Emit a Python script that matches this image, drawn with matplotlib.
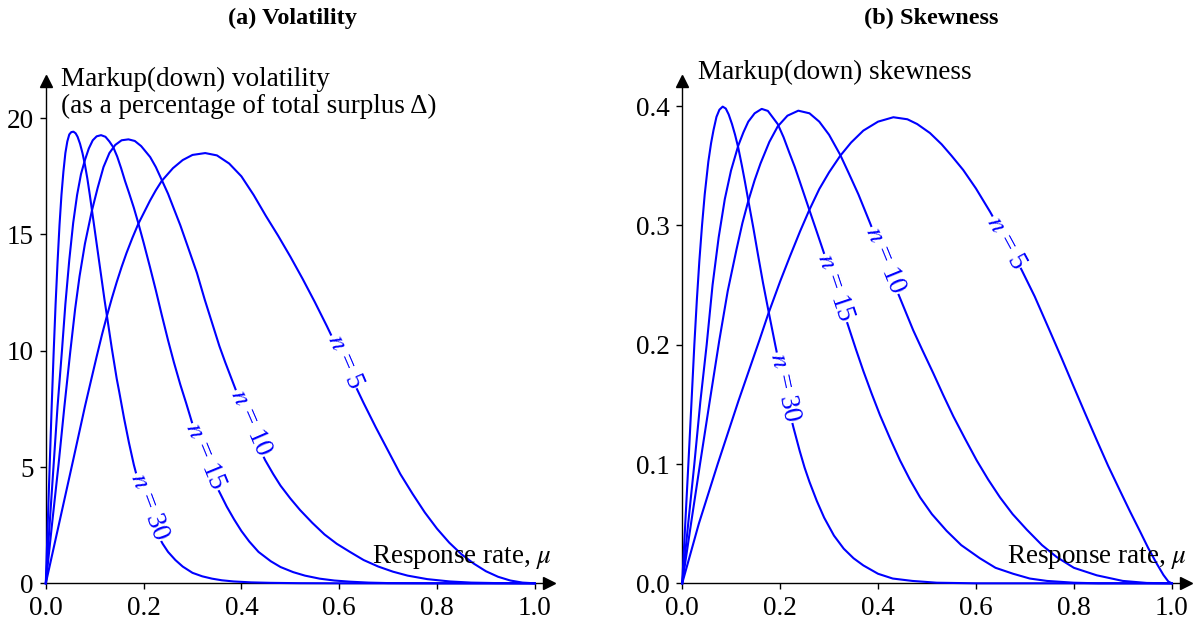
import matplotlib
matplotlib.use("Agg")
import matplotlib.pyplot as plt
from matplotlib.ticker import FormatStrFormatter

plt.rcParams["font.family"] = "serif"
plt.rcParams["font.serif"] = ["Liberation Serif", "DejaVu Serif"]
plt.rcParams["mathtext.fontset"] = "stix"

# === Data ===
# (a) volatility, % of total surplus
vol_x_30 = [0, 0.004, 0.008, 0.012, 0.016, 0.020, 0.024, 0.028, 0.032, 0.036, 0.040, 0.044, 0.048,
            0.052, 0.0565, 0.061, 0.065, 0.070, 0.075, 0.080, 0.085, 0.090, 0.095, 0.100, 0.105,
            0.110, 0.115, 0.120, 0.125, 0.130, 0.135, 0.140, 0.145, 0.150, 0.160, 0.170, 0.180,
            0.190, 0.200, 0.211, 0.220, 0.230, 0.239, 0.250, 0.265, 0.280, 0.300, 0.320, 0.340,
            0.360, 0.384, 0.420, 0.460, 0.520, 0.600, 1.0]
vol_y_30 = [0, 2.6, 5.1, 7.6, 9.9, 12.0, 13.8, 15.4, 16.7, 17.7, 18.5, 19.0, 19.3,
            19.4, 19.42, 19.35, 19.2, 18.9, 18.5, 18.0, 17.4, 16.7, 15.95, 15.2, 14.45,
            13.7, 12.95, 12.2, 11.5, 10.8, 10.1, 9.45, 8.8, 8.25, 7.1, 6.05, 5.1,
            4.3, 3.6, 3.0, 2.5, 2.05, 1.7, 1.35, 1.0, 0.72, 0.45, 0.3, 0.2,
            0.13, 0.08, 0.04, 0.02, 0.005, 0.0, 0.0]
vol_x_15 = [0, 0.008, 0.016, 0.024, 0.033, 0.040, 0.048, 0.056, 0.064, 0.072, 0.080, 0.088, 0.096,
            0.104, 0.113, 0.122, 0.130, 0.138, 0.146, 0.154, 0.162, 0.170, 0.180, 0.189, 0.200,
            0.213, 0.225, 0.237, 0.250, 0.262, 0.275, 0.287, 0.2985, 0.310, 0.327, 0.340, 0.3564,
            0.370, 0.385, 0.400, 0.416, 0.435, 0.460, 0.480, 0.506, 0.530, 0.560, 0.590, 0.622,
            0.660, 0.700, 0.800, 1.0]
vol_y_15 = [0, 2.6, 5.1, 7.6, 10.0, 12.0, 13.9, 15.5, 16.7, 17.6, 18.2, 18.7, 19.05,
            19.22, 19.27, 19.2, 19.0, 18.75, 18.35, 17.85, 17.3, 16.8, 16.15, 15.5, 14.65,
            13.6, 12.6, 11.55, 10.45, 9.5, 8.55, 7.75, 6.95, 6.2, 5.2, 4.55, 3.87,
            3.3, 2.75, 2.25, 1.8, 1.35, 0.95, 0.7, 0.48, 0.33, 0.2, 0.12, 0.07,
            0.03, 0.01, 0.0, 0.0]
vol_x_10 = [0, 0.013, 0.026, 0.038, 0.050, 0.060, 0.069, 0.080, 0.094, 0.106, 0.118, 0.130, 0.142,
            0.155, 0.169, 0.182, 0.195, 0.2134, 0.225, 0.237, 0.250, 0.262, 0.275, 0.290, 0.309,
            0.325, 0.343, 0.355, 0.367, 0.387, 0.400, 0.419, 0.435, 0.4485, 0.465, 0.480, 0.500,
            0.520, 0.545, 0.570, 0.595, 0.622, 0.650, 0.680, 0.710, 0.740, 0.780, 0.826, 0.870,
            0.920, 1.0]
vol_y_10 = [0, 2.6, 5.1, 7.6, 9.95, 11.8, 13.2, 14.6, 16.0, 17.0, 17.9, 18.5, 18.85,
            19.05, 19.09, 19.02, 18.8, 18.33, 17.9, 17.35, 16.75, 16.1, 15.4, 14.5, 13.35,
            12.2, 11.0, 10.2, 9.5, 8.4, 7.7, 6.7, 5.9, 5.3, 4.7, 4.2, 3.65,
            3.15, 2.6, 2.1, 1.7, 1.35, 1.0, 0.72, 0.5, 0.33, 0.18, 0.08, 0.03,
            0.01, 0.0]
vol_x_5 = [0, 0.028, 0.0565, 0.080, 0.090, 0.104, 0.115, 0.125, 0.135, 0.145, 0.155, 0.165, 0.177,
           0.189, 0.201, 0.213, 0.225, 0.237, 0.260, 0.280, 0.300, 0.326, 0.350, 0.375, 0.400,
           0.425, 0.450, 0.475, 0.500, 0.525, 0.550, 0.575, 0.600, 0.625, 0.650, 0.675, 0.700,
           0.725, 0.750, 0.775, 0.800, 0.825, 0.850, 0.875, 0.900, 0.925, 0.950, 0.975, 1.0]
vol_y_5 = [0, 2.65, 5.35, 7.6, 8.5, 9.75, 10.7, 11.5, 12.25, 12.95, 13.6, 14.2, 14.85,
           15.45, 15.95, 16.45, 16.9, 17.3, 17.85, 18.2, 18.42, 18.5, 18.4, 18.05, 17.5,
           16.7, 15.8, 14.95, 14.05, 13.1, 12.1, 11.05, 9.95, 8.85, 7.75, 6.7, 5.7,
           4.7, 3.85, 3.05, 2.35, 1.75, 1.25, 0.85, 0.52, 0.28, 0.12, 0.03, 0.0]

# (b) skewness
skw_x_30 = [0, 0.006, 0.0126, 0.019, 0.0248, 0.030, 0.035, 0.0405, 0.046, 0.0534, 0.059, 0.064, 0.070,
            0.076, 0.0827, 0.089, 0.095, 0.1017, 0.108, 0.1146, 0.122, 0.128, 0.135, 0.1453, 0.155,
            0.165, 0.1759, 0.190, 0.200, 0.210, 0.220, 0.227, 0.240, 0.250, 0.260, 0.275, 0.290,
            0.310, 0.330, 0.350, 0.370, 0.400, 0.430, 0.470, 0.520, 0.600, 1.0]
skw_y_30 = [0, 0.048, 0.1, 0.152, 0.2, 0.238, 0.27, 0.30, 0.326, 0.3535, 0.369, 0.38, 0.391,
            0.397, 0.3996, 0.398, 0.393, 0.385, 0.376, 0.365, 0.35, 0.337, 0.321, 0.298, 0.275,
            0.252, 0.229, 0.2, 0.18, 0.161, 0.143, 0.131, 0.111, 0.097, 0.085, 0.069, 0.055,
            0.040, 0.029, 0.021, 0.015, 0.008, 0.004, 0.002, 0.0005, 0.0, 0.0]
skw_x_15 = [0, 0.012, 0.0248, 0.037, 0.050, 0.062, 0.0745, 0.087, 0.0997, 0.1146, 0.125, 0.135, 0.148,
            0.1624, 0.175, 0.1951, 0.207, 0.2188, 0.230, 0.240, 0.2597, 0.273, 0.287, 0.300, 0.313,
            0.326, 0.339, 0.355, 0.370, 0.387, 0.404, 0.425, 0.445, 0.465, 0.486, 0.510, 0.540,
            0.570, 0.608, 0.640, 0.676, 0.710, 0.745, 0.800, 0.850, 1.0]
skw_y_15 = [0, 0.049, 0.1, 0.152, 0.2, 0.25, 0.29, 0.322, 0.346, 0.367, 0.378, 0.387, 0.394,
            0.3977, 0.396, 0.385, 0.374, 0.361, 0.349, 0.337, 0.313, 0.297, 0.280, 0.264, 0.248,
            0.232, 0.216, 0.196, 0.178, 0.159, 0.141, 0.121, 0.103, 0.087, 0.072, 0.058, 0.044,
            0.032, 0.021, 0.013, 0.008, 0.004, 0.002, 0.0005, 0.0, 0.0]
skw_x_10 = [0, 0.018, 0.0364, 0.056, 0.0759, 0.093, 0.111, 0.123, 0.135, 0.148, 0.160, 0.178, 0.1951,
            0.215, 0.2372, 0.260, 0.280, 0.300, 0.323, 0.340, 0.360, 0.3837, 0.400, 0.414, 0.430,
            0.445, 0.458, 0.472, 0.490, 0.513, 0.533, 0.5538, 0.578, 0.6016, 0.625, 0.6492, 0.675,
            0.7038, 0.735, 0.765, 0.800, 0.8468, 0.900, 0.949, 1.0]
skw_y_10 = [0, 0.05, 0.1, 0.152, 0.2039, 0.245, 0.28, 0.302, 0.3205, 0.338, 0.352, 0.370, 0.383,
            0.392, 0.3962, 0.394, 0.387, 0.376, 0.359, 0.344, 0.326, 0.302, 0.285, 0.27, 0.254,
            0.239, 0.226, 0.212, 0.196, 0.176, 0.158, 0.14, 0.121, 0.103, 0.087, 0.072, 0.058,
            0.045, 0.032, 0.022, 0.013, 0.0067, 0.002, 0.0003, 0.0]
skw_x_5 = [0, 0.034, 0.0725, 0.115, 0.1575, 0.1759, 0.200, 0.220, 0.2407, 0.2597, 0.280, 0.300, 0.323,
           0.345, 0.370, 0.400, 0.4313, 0.460, 0.480, 0.506, 0.530, 0.550, 0.574, 0.600, 0.6288,
           0.661, 0.6936, 0.720, 0.7483, 0.7753, 0.799, 0.823, 0.8468, 0.870, 0.8944, 0.915, 0.9352,
           0.952, 0.9693, 0.983, 0.993, 1.0]
skw_y_5 = [0, 0.05, 0.1, 0.153, 0.2035, 0.226, 0.253, 0.274, 0.295, 0.313, 0.3305, 0.3445, 0.3585,
           0.3695, 0.3795, 0.387, 0.3907, 0.389, 0.385, 0.3775, 0.368, 0.3585, 0.3465, 0.331, 0.3115,
           0.288, 0.2625, 0.2405, 0.214, 0.1885, 0.1655, 0.1425, 0.12, 0.0985, 0.0775, 0.060, 0.0435,
           0.0295, 0.0165, 0.007, 0.0015, 0.0]

n_values = [5, 10, 15, 30]
# inline label spots (x, y, angle in degrees)
vol_labels = {5: (0.612, 9.54, -66.7), 10: (0.419, 6.89, -66.6),
              15: (0.326, 5.44, -67.7), 30: (0.211, 3.28, -69.5)}
skw_labels = {5: (0.661, 0.2856, -61.5), 10: (0.4143, 0.2707, -67.9),
              15: (0.313, 0.2475, -71.5), 30: (0.21, 0.164, -78.0)}

vol_curves = {5: (vol_x_5, vol_y_5), 10: (vol_x_10, vol_y_10),
              15: (vol_x_15, vol_y_15), 30: (vol_x_30, vol_y_30)}
skw_curves = {5: (skw_x_5, skw_y_5), 10: (skw_x_10, skw_y_10),
              15: (skw_x_15, skw_y_15), 30: (skw_x_30, skw_y_30)}

FS = 19.5       # body text
FS_TITLE = 17.5
BLUE = "#0000ff"

fig = plt.figure(figsize=(11.96, 6.21), dpi=100)
ax_a = fig.add_axes([0.0383, 0.0607, 0.4207, 0.8089])
ax_b = fig.add_axes([0.5704, 0.0607, 0.4212, 0.8089])


def style_axis(ax, xmax, ymax, yticks, yfmt):
    ax.set_xlim(0, xmax)
    ax.set_ylim(0, ymax)
    for side in ["top", "right"]:
        ax.spines[side].set_visible(False)
    for side in ["left", "bottom"]:
        ax.spines[side].set_linewidth(1.0)
    ax.set_xticks([0, 0.2, 0.4, 0.6, 0.8, 1.0])
    ax.xaxis.set_major_formatter(FormatStrFormatter("%.1f"))
    ax.set_yticks(yticks)
    ax.yaxis.set_major_formatter(FormatStrFormatter(yfmt))
    ax.tick_params(direction="out", length=4.2, width=1.0, labelsize=FS)
    ax.tick_params(axis="x", pad=5.0)
    ax.tick_params(axis="y", pad=4.5)
    # arrow heads on the axes
    ax.plot(1, 0, ">k", transform=ax.transAxes, clip_on=False, markersize=9, zorder=5)
    ax.plot(0, 1, "^k", transform=ax.transAxes, clip_on=False, markersize=9, zorder=5)


def draw_curves(ax, curves, labels):
    for n in n_values:
        x, y = curves[n]
        ax.plot(x, y, color=BLUE, lw=1.5, clip_on=False, zorder=3)
        lx, ly, ang = labels[n]
        ax.text(lx, ly, f"$n$ = {n}", color=BLUE, fontsize=FS, rotation=ang,
                rotation_mode="anchor", ha="center", va="center", zorder=4,
                bbox=dict(facecolor="white", edgecolor="none", pad=0.5))


# Panel (a): volatility
draw_curves(ax_a, vol_curves, vol_labels)
style_axis(ax_a, 1.029, 21.6, [0, 5, 10, 15, 20], "%d")

# Panel (b): skewness
draw_curves(ax_b, skw_curves, skw_labels)
style_axis(ax_b, 1.029, 0.4211, [0.0, 0.1, 0.2, 0.3, 0.4], "%.1f")

# labels and titles
fig.text(0.2445, 0.971, "(a) Volatility", fontsize=FS_TITLE, fontweight="bold", ha="center", va="center")
fig.text(0.779, 0.971, "(b) Skewness", fontsize=FS_TITLE, fontweight="bold", ha="center", va="center")
fig.text(0.0510, 0.8615, "Markup(down) volatility", fontsize=FS, ha="left", va="baseline")
fig.text(0.0510, 0.8176, "(as a percentage of total surplus \u0394)", fontsize=FS, ha="left", va="baseline")
fig.text(0.5838, 0.8728, "Markup(down) skewness", fontsize=FS, ha="left", va="baseline")
fig.text(551.7 / 1196, 0.0929, r"Response rate, $\mu$", fontsize=FS, ha="right", va="baseline")
fig.text(1187 / 1196, 0.0929, r"Response rate, $\mu$", fontsize=FS, ha="right", va="baseline")

fig.savefig("out.png", dpi=100)
